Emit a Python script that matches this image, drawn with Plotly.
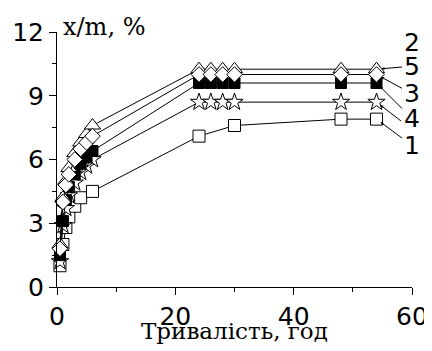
import plotly.graph_objects as go

# ---- data ----
hours = [0.5, 1, 1.5, 2, 3, 4, 5, 6, 24, 26, 28, 30, 48, 54]
hours_s1 = [0.5, 1, 1.5, 2, 3, 4, 6, 24, 30, 48, 54]

s2_triangle = [2.0, 4.2, 5.0, 5.6, 6.3, 6.8, 7.2, 7.6, 10.25, 10.25, 10.25, 10.25, 10.25, 10.25]
s5_diamond = [1.8, 4.0, 4.8, 5.3, 6.0, 6.5, 6.8, 7.1, 10.0, 10.0, 10.0, 10.0, 10.0, 10.0]
s3_filled = [1.5, 3.1, 4.1, 4.7, 5.3, 5.8, 6.1, 6.4, 9.6, 9.6, 9.6, 9.6, 9.6, 9.6]
s4_star = [1.2, 2.9, 3.7, 4.3, 4.9, 5.4, 5.7, 6.0, 8.7, 8.7, 8.7, 8.7, 8.7, 8.7]
s1_square = [1.0, 2.0, 2.8, 3.3, 3.8, 4.2, 4.5, 7.1, 7.6, 7.9, 7.9]

x_ticks = [0, 20, 40, 60]
y_ticks = [0, 3, 6, 9, 12]
x_title = "Тривалість, год"
y_title = "x/m, %"

labels = ["2", "5", "3", "4", "1"]

SANS = "DejaVu Sans, Arial, sans-serif"
SERIF = "DejaVu Serif, Times New Roman, serif"

fig = go.Figure()

def add(x, y, symbol, fill, size=12):
    fig.add_trace(go.Scatter(
        x=x, y=y, mode="lines+markers",
        line=dict(color="black", width=1),
        marker=dict(symbol=symbol, size=size, color=fill,
                    line=dict(color="black", width=1)),
        showlegend=False, cliponaxis=False))

add(hours_s1, s1_square, "square", "white", 12)
add(hours, s4_star, "star", "white", 13)
add(hours, s3_filled, "square", "black", 11)
add(hours, s2_triangle, "triangle-up", "white", 14)
add(hours, s5_diamond, "diamond", "white", 12)

axis_common = dict(showgrid=False, zeroline=False, showline=True, automargin=False,
                   linecolor="black", linewidth=1, ticks="outside",
                   ticklen=7, tickcolor="black",
                   tickfont=dict(family=SANS, size=25, color="black"))

fig.update_xaxes(range=[0, 60], tickvals=x_ticks, ticktext=[str(v) for v in x_ticks],
                 minor=dict(tickvals=[10, 30, 50], ticks="outside", ticklen=4, tickcolor="black"),
                 **axis_common)
fig.update_yaxes(range=[0, 12], tickvals=y_ticks, ticktext=[str(v) for v in y_ticks],
                 minor=dict(tickvals=[1.5, 4.5, 7.5, 10.5], ticks="outside", ticklen=4, tickcolor="black"),
                 **axis_common)

ann = []
ann.append(dict(text=y_title, xref="paper", yref="paper", x=0, y=1,
                xanchor="left", yanchor="middle", xshift=4, yshift=5,
                showarrow=False, font=dict(family=SERIF, size=24, color="black")))
ann.append(dict(text=x_title, xref="paper", yref="paper", x=0.5, y=0,
                xanchor="center", yanchor="middle", yshift=-44,
                showarrow=False, font=dict(family=SERIF, size=23, color="black")))

lab_font = dict(family=SANS, size=25, color="black")
# label "2": no leader line
ann.append(dict(text=labels[0], x=54, y=s2_triangle[-1], xref="x", yref="y",
                showarrow=False, xshift=35, yshift=27, font=lab_font))
targets = [s2_triangle[-1], s5_diamond[-1], s3_filled[-1], s1_square[-1]]
offs = [(35, -3), (35, 19), (35, 35), (35, 26)]
for lab, ty, (ax, ay) in zip(labels[1:3] + [labels[3], labels[4]], targets, offs):
    ann.append(dict(text=lab, x=54, y=ty, xref="x", yref="y", showarrow=True,
                    ax=ax, ay=ay, arrowhead=2, arrowsize=0.6, arrowwidth=1,
                    arrowcolor="black", standoff=5, font=lab_font))
# extra leader from below "4" to the star series
ann.append(dict(text="", x=54, y=s4_star[-1], xref="x", yref="y", showarrow=True,
                ax=26, ay=20, arrowhead=2, arrowsize=0.6, arrowwidth=1,
                arrowcolor="black", standoff=5))

# the page adds an 8 px body margin, so the figure is 8 px smaller
fig.update_layout(width=424, height=343, plot_bgcolor="white", paper_bgcolor="white",
                  margin=dict(l=49, r=20, t=24, b=64), annotations=ann)

fig.write_html("out.html")
